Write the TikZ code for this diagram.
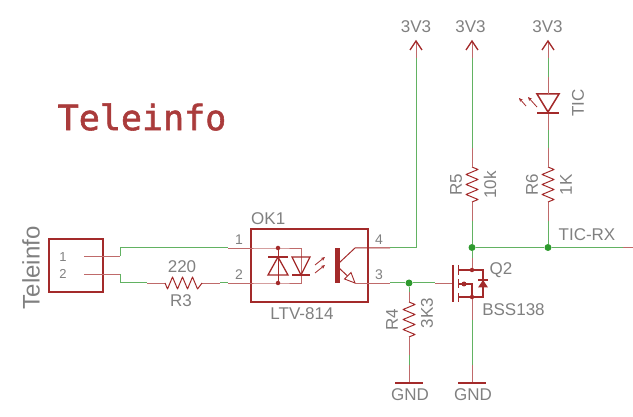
\documentclass[tikz,border=0pt]{standalone}
\usepackage{fontspec}
\setmainfont{Liberation Sans}
\newfontfamily\titlefont[FakeBold=1.6]{DejaVu Sans Mono}
\usetikzlibrary{arrows.meta}
\definecolor{sym}{HTML}{A32A2A}
\definecolor{wire}{HTML}{62B262}
\definecolor{lbl}{HTML}{808080}
\definecolor{dotc}{HTML}{2E9A2E}
\tikzset{
  pin/.style={draw=sym!70!white,line width=.9pt},
  net/.style={draw=wire,line width=1pt},
  symb/.style={draw=sym,line width=1.5pt},
  thin symb/.style={draw=sym,line width=1pt},
  txt/.style={text=lbl,font=\fontsize{17}{19}\selectfont,inner sep=0pt},
  pinnum/.style={text=lbl,font=\fontsize{14}{16}\selectfont,inner sep=0pt},
  junction/.style={circle,fill=dotc,inner sep=0pt,minimum size=7pt},
  smalldot/.style={circle,fill=sym,inner sep=0pt,minimum size=4.5pt},
  pics/resv/.style={code={\draw[thin symb,line join=round] (0,0)--(6,2.5)--(-6,7.5)--(6,12.5)--(-6,17.5)--(6,22.5)--(-6,27.5)--(6,32.5)--(0,35);}},
  pics/resh/.style={code={\draw[thin symb,line join=round] (0,0)--(2.5,6)--(7.5,-6)--(12.5,6)--(17.5,-6)--(22.5,6)--(27.5,-6)--(32.5,6)--(37,0);}},
  pics/supply/.style={code={\draw[symb,line width=1.3pt] (-6,9)--(0,0)--(6,9);}},
  pics/gndbar/.style={code={\draw[symb,line width=1.3pt] (-14,0)--(14,0);}}
}
\begin{document}
\begin{tikzpicture}[x=1pt,y=-1pt]
\useasboundingbox (0,0) rectangle (633,417);
% title
\node[inner sep=0pt,text=sym!92!white,font=\titlefont\fontsize{35}{35}\selectfont] (title) at (142,117) {Teleinfo};
% connector
\node[draw=sym,line width=1.5pt,minimum width=54pt,minimum height=53pt,inner sep=0pt] (J) at (76,265.5) {};
\node[txt,rotate=90,font=\fontsize{24}{26}\selectfont] (Jname) at (31,268) {Teleinfo};
\node[pinnum,font=\fontsize{13}{15}\selectfont] (j1) at (63,257) {1};
\node[pinnum,font=\fontsize{13}{15}\selectfont] (j2) at (63,274) {2};
\coordinate (ja) at (84,256); \coordinate (jb) at (120,256);
\coordinate (jc) at (84,274); \coordinate (jd) at (120,274);
\coordinate (w1) at (120,248); \coordinate (w2) at (120,283);
\draw[pin] (ja)--(jb); \draw[pin] (jc)--(jd);
% opto
\node[draw=sym,line width=2pt,minimum width=117pt,minimum height=73pt,inner sep=0pt] (OK) at (309.5,265.5) {};
\node[txt,anchor=west] (okn) at (251,218.5) {OK1};
\node[txt] (okv) at (302,314) {LTV-814};
\node[pinnum] (p1) at (239,240) {1};
\node[pinnum] (p2) at (239,275) {2};
\node[pinnum] (p4) at (379,240) {4};
\node[pinnum] (p3) at (379,275) {3};
\coordinate (a1) at (228,248); \coordinate (a2) at (228,283);
\coordinate (c4) at (390,248); \coordinate (c3) at (390,283);
% wires from connector
\draw[net] (jb)--(w1)--(a1);
\coordinate (r3a) at (165,283); \coordinate (r3b) at (202,283);
\coordinate (g3a) at (147,283); \coordinate (g3b) at (220,283);
\draw[net] (jd)--(w2)--(g3a);
\draw[pin] (g3a)--(r3a); \draw[pin] (r3b)--(g3b);
\draw[net] (g3b)--(a2);
\pic at (r3a) {resh};
\node[txt] (r3v) at (182,267) {220};
\node[txt] (r3n) at (181,301) {R3};
\draw[pin] (a1)--(278,248)--(301,248)--(301,283)--(278,283)--(a2);
% opto internals
\node[smalldot] (d1) at (278,248) {};
\node[smalldot] (d2) at (278,283) {};
\draw[thin symb] (d1)--(d2);
\draw[thin symb,line width=1.3pt] (268,257)--(288,257);
\draw[thin symb,line width=1.3pt] (278,257)--(268,275)--(288,275)--cycle;
\draw[thin symb,line width=1.3pt] (292,275)--(310,275);
\draw[thin symb,line width=1.3pt] (301,275)--(292,257)--(310,257)--cycle;
\draw[draw=sym,line width=.8pt,-{Stealth[length=4pt,width=3.5pt,fill=sym]}] (315,265)--(325,257);
\draw[draw=sym,line width=.8pt,-{Stealth[length=4pt,width=3.5pt,fill=sym]}] (315,273)--(325,265);
\fill[sym] (334.5,248) rectangle (339.5,283);
\draw[thin symb] (339,263)--(355,248)--(c4);
\draw[thin symb] (339,268)--(355,283);
\draw[draw=sym,line width=.9pt,fill=white] (355,283)--(344.5,279)--(351,272.5)--cycle;
\draw[pin] (355,283)--(c3);
% 3V3 net
\coordinate (v1) at (416,41);
\draw[net] (c4)--(416,248)--(v1);
\draw[pin] (416,41)--(416,58);
\pic at (v1) {supply};
\node[txt] (v1t) at (416,27) {3V3};
% gate net
\node[junction] (jn4) at (409,283) {};
\coordinate (gt) at (435,283);
\coordinate (gate) at (453,283);
\draw[net] (c3)--(jn4)--(gt);
\draw[pin] (gt)--(gate);
% R4
\coordinate (r4a) at (409,302); \coordinate (r4b) at (409,337);
\coordinate (g4) at (409,383);
\draw[net] (jn4)--(409,292);
\draw[pin] (409,292)--(r4a);
\pic at (r4a) {resv};
\draw[pin] (r4b)--(409,355);
\draw[net] (409,355)--(409,365);
\draw[pin] (409,365)--(g4);
\pic at (g4) {gndbar};
\node[txt] (g4t) at (410,395) {GND};
\node[txt,rotate=90] (r4n) at (392,320) {R4};
\node[txt,rotate=90] (r4v) at (427,313) {3K3};
% MOSFET
\draw[symb] (453,265)--(453,302);
\draw[symb] (458.5,265)--(458.5,275);
\draw[symb] (458.5,279)--(458.5,288);
\draw[symb] (458.5,293)--(458.5,302);
\draw[thin symb,line width=1.3pt] (458.5,270)--(483,270)--(483,297)--(458.5,297);
\draw[thin symb,line width=1.3pt] (458.5,284)--(472,284)--(472,297);
\node[smalldot,minimum size=5pt] (sg) at (464,284) {};
\fill[sym] (483,280)--(478,287.5)--(488,287.5)--cycle;
\draw[thin symb,line width=1.3pt] (478,280)--(488,280);
\node[smalldot] (dn) at (472,270) {};
\node[smalldot] (sn) at (472,297) {};
\node[txt] (q2) at (501,270) {Q2};
\node[txt] (bss) at (513.5,310) {BSS138};
% drain column
\node[junction] (jn5) at (472,247.5) {};
\coordinate (g5) at (472,383);
\draw[pin] (dn)--(472,258);
\draw[net] (472,258)--(jn5);
\draw[pin] (sn)--(472,320);
\draw[net] (472,320)--(472,365);
\draw[pin] (472,365)--(g5);
\pic at (g5) {gndbar};
\node[txt] (g5t) at (473,395) {GND};
% R5
\coordinate (r5a) at (472,167); \coordinate (r5b) at (472,202);
\coordinate (v5) at (472,41);
\draw[net] (jn5)--(472,221);
\draw[pin] (472,221)--(r5b);
\pic at (r5a) {resv};
\draw[pin] (r5a)--(472,148);
\draw[net] (472,148)--(472,58);
\draw[pin] (472,58)--(v5);
\pic at (v5) {supply};
\node[txt] (v5t) at (470.5,27) {3V3};
\node[txt,rotate=90] (r5n) at (456,185) {R5};
\node[txt,rotate=90] (r5v) at (490,185) {10k};
% R6 and LED
\node[junction] (jn6) at (548,247.5) {};
\coordinate (r6a) at (548,167); \coordinate (r6b) at (548,202);
\coordinate (v6) at (548,41);
\draw[net] (jn6)--(548,221);
\draw[pin] (548,221)--(r6b);
\pic at (r6a) {resv};
\draw[pin] (r6a)--(548,148);
\draw[net] (548,148)--(548,130);
\draw[pin] (548,130)--(548,113);
\draw[thin symb,line width=1.5pt] (537,113)--(559,113);
\draw[thin symb,line width=1.5pt] (548,112)--(537,94)--(559,94)--cycle;
\draw[pin] (548,94)--(548,77);
\draw[net] (548,77)--(548,58);
\draw[pin] (548,58)--(v6);
\pic at (v6) {supply};
\node[txt] (v6t) at (547.5,27) {3V3};
\draw[draw=sym,line width=.8pt,-{Stealth[length=4pt,width=3.5pt,fill=sym]}] (526,106)--(519,98);
\draw[draw=sym,line width=.8pt,-{Stealth[length=4pt,width=3.5pt,fill=sym]}] (537,107)--(528,97);
\node[txt,rotate=90] (tic) at (578,103) {TIC};
\node[txt,rotate=90] (r6n) at (532,185) {R6};
\node[txt,rotate=90] (r6v) at (566,185) {1K};
% TIC-RX
\coordinate (rxe) at (633,247.5); \coordinate (rxg) at (623,247.5);
\draw[net] (jn5)--(jn6)--(rxg);
\draw[pin] (rxg)--(rxe);
\node[txt] (rx) at (587,235) {TIC-RX};
\end{tikzpicture}
\end{document}
